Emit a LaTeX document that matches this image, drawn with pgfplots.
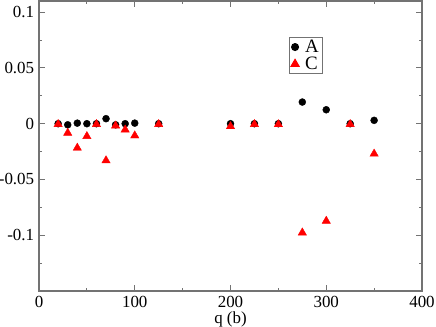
\documentclass[border=0pt]{standalone}
\usepackage{fontspec}
\setmainfont{Liberation Serif}
\usepackage{pgfplots}
\pgfplotsset{compat=1.18}
\definecolor{axgray}{gray}{0.45}
\pgfplotsset{dotlegend/.style={legend image code/.code={\draw[##1] plot coordinates {(0bp,0bp)};}}}

\begin{document}
\fontsize{17}{19}\selectfont
\begin{tikzpicture}
  \begin{axis}[
      name=ax,
      scale only axis,
      width=383bp, height=290bp,
      xmin=0, xmax=400,
      ymin=-0.15, ymax=0.11,
      xtick={0,100,200,300,400},
      minor xtick={50,150,250,350},
      ytick={-0.1,-0.05,0,0.05,0.1},
      yticklabels={-0.1,-0.05,0,0.05,0.1},
      xticklabels={0,100,200,300,400},
      minor ytick={-0.125,-0.075,-0.025,0.025,0.075},
      tick align=inside,
      major tick length=6bp,
      minor tick length=3bp,
      every tick/.style={axgray, line width=1pt},
      axis line style={axgray, line width=1.5pt},
      ticklabel style={font=\rmfamily\fontsize{17}{19}\selectfont},
      xlabel={q (b)},
      xlabel style={yshift=7bp},
      xticklabel style={yshift=1bp},
      yticklabel style={xshift=1bp},
      legend style={at={(axis cs:261,0.0777)}, anchor=north west,
        draw=axgray, line width=1pt, inner xsep=1.5bp, inner ysep=1.5bp,
        nodes={inner ysep=0.5bp}, row sep=1bp,
        /tikz/every odd column/.append style={column sep=4bp},
        font=\fontsize{19}{21}\selectfont},
      legend cell align=left,
    ]
    \addplot[only marks, mark=*, mark size=3.5bp, black, dotlegend] coordinates {
      (20,0) (30,-0.001) (40,0.0005) (50,0) (60,0) (70,0.0045) (80,-0.001)
      (90,0) (100,0.0005) (125,0) (200,0) (225,0) (250,0) (275,0.0194)
      (300,0.0125) (325,0) (350,0.003)
    };
    \addlegendentry{A}
    \addplot[only marks, mark=triangle*, mark size=4.8bp, red, mark options={fill=red, draw=red}, dotlegend] coordinates {
      (20,-0.0005) (30,-0.0083) (40,-0.0217) (50,-0.0113) (60,-0.0005)
      (70,-0.033) (80,-0.0018) (90,-0.0054) (100,-0.0107) (125,-0.0005)
      (200,-0.0024) (225,-0.0005) (250,-0.0006) (275,-0.0977)
      (300,-0.0872) (325,-0.0005) (350,-0.027)
    };
    \addlegendentry{C}
  \end{axis}
  \pgfresetboundingbox
  \path[use as bounding box] ([shift={(-39bp,-36bp)}]ax.south west)
    rectangle ([shift={(14bp,1bp)}]ax.north east);
\end{tikzpicture}
\end{document}
